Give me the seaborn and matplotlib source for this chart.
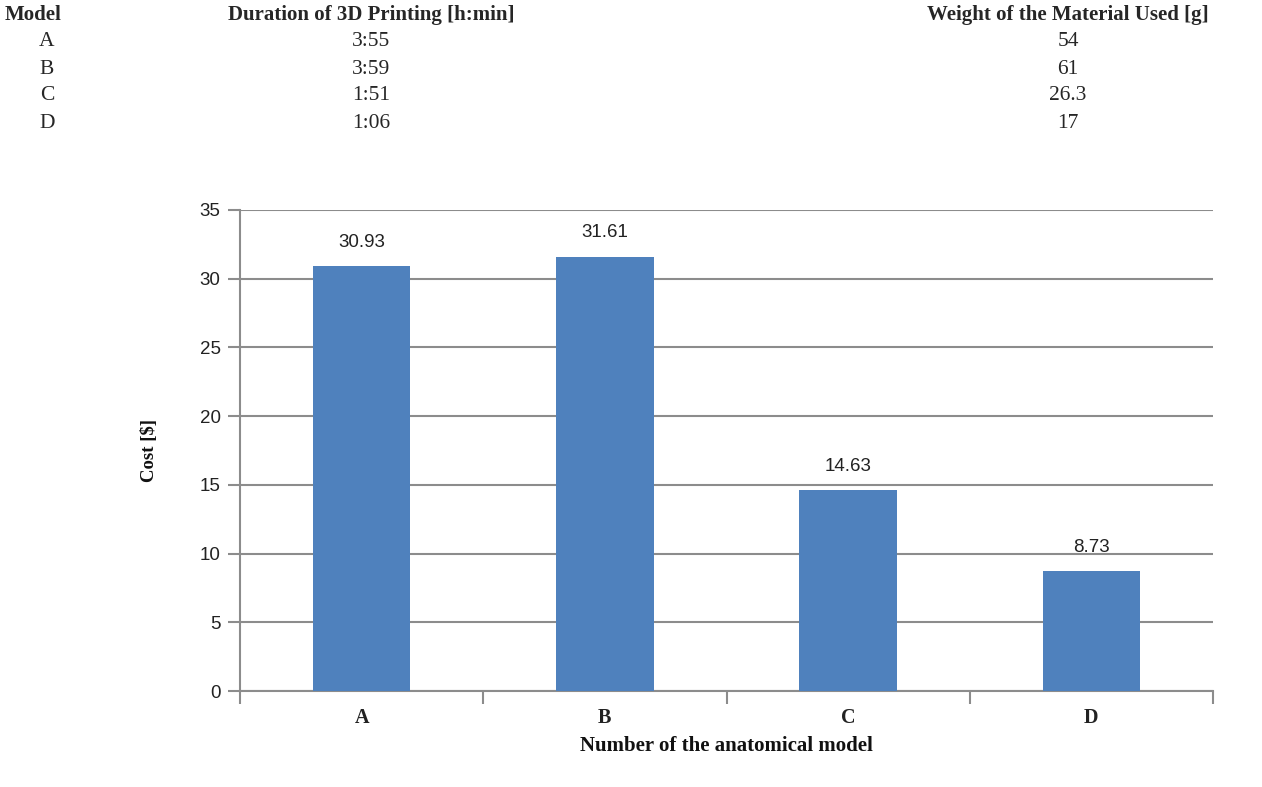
import matplotlib
matplotlib.use("Agg")
import matplotlib.pyplot as plt
import pandas as pd
import seaborn as sns

# Donnees
models = ["A", "B", "C", "D"]
durations = ["3:55", "3:59", "1:51", "1:06"]
weights = ["54", "61", "26.3", "17"]
costs = [30.93, 31.61, 14.63, 8.73]
y_ticks = [0, 5, 10, 15, 20, 25, 30, 35]

df = pd.DataFrame({"Model": models, "Cost": costs})

sns.set_theme(style="white")
plt.rcParams["font.family"] = ["Liberation Serif", "DejaVu Serif"]

fig = plt.figure(figsize=(12.62, 7.87), dpi=100)

# Tableau en haut
serif = "Liberation Serif"
fig.text(5 / 1262, 1 - 15 / 787, "Model", fontsize=15, fontweight="bold",
         family=serif, va="center", ha="left")
fig.text(371 / 1262, 1 - 15 / 787, "Duration of 3D Printing [h:min]", fontsize=15,
         fontweight="bold", family=serif, va="center", ha="center")
fig.text(1068 / 1262, 1 - 15 / 787, "Weight of the Material Used [g]", fontsize=15,
         fontweight="bold", family=serif, va="center", ha="center")
for i, (m, d, w) in enumerate(zip(models, durations, weights)):
    y = 1 - (42 + 27 * i) / 787
    fig.text(47 / 1262, y, m, fontsize=15.5, family=serif, va="center", ha="center")
    fig.text(371 / 1262, y, d, fontsize=15.5, family=serif, va="center", ha="center")
    fig.text(1068 / 1262, y, w, fontsize=15.5, family=serif, va="center", ha="center")

# Graphique
ax = fig.add_axes([240 / 1262, 1 - 691 / 787, 973 / 1262, 481 / 787])
sns.barplot(data=df, x="Model", y="Cost", color="#4F81BD", saturation=1,
            width=0.4, linewidth=0, ax=ax, zorder=3)

ax.set_ylim(0, 35)
ax.set_xlim(-0.5, len(models) - 0.5)
ax.set_yticks(y_ticks)
ax.yaxis.grid(True, color="#8c8c8c", linewidth=1.5, zorder=0)
ax.set_axisbelow(True)

for side in ["top", "right"]:
    ax.spines[side].set_visible(False)
for side in ["left", "bottom"]:
    ax.spines[side].set_color("#8c8c8c")
    ax.spines[side].set_linewidth(1.5)

ax.tick_params(axis="y", left=True, length=9, width=1.5, color="#8c8c8c",
               direction="out", labelsize=13.5, pad=5, labelcolor="#222222")
for lab in ax.get_yticklabels():
    lab.set_family(["Liberation Sans", "DejaVu Sans"])

# Ticks x entre les categories
ax.set_xticks([i - 0.5 for i in range(len(models) + 1)], minor=True)
ax.tick_params(axis="x", which="minor", bottom=True, length=9, width=1.5,
               color="#8c8c8c", direction="out")
ax.tick_params(axis="x", which="major", bottom=False, length=0, labelsize=14.5,
               pad=12, labelcolor="#222222")
for lab in ax.get_xticklabels():
    lab.set_fontweight("bold")

# Etiquettes des valeurs
for bar, val in zip(ax.patches, costs):
    ax.text(bar.get_x() + bar.get_width() / 2, val + 1.1, f"{val:.2f}",
            ha="center", va="bottom", fontsize=13.5, color="#222222",
            family=["Liberation Sans", "DejaVu Sans"])

ax.set_xlabel("Number of the anatomical model", fontsize=15, fontweight="bold",
              labelpad=6, color="#111111")
ax.set_ylabel("Cost [$]", fontsize=13.5, fontweight="bold", labelpad=30,
              color="#111111")

fig.savefig("out.png", dpi=100)
